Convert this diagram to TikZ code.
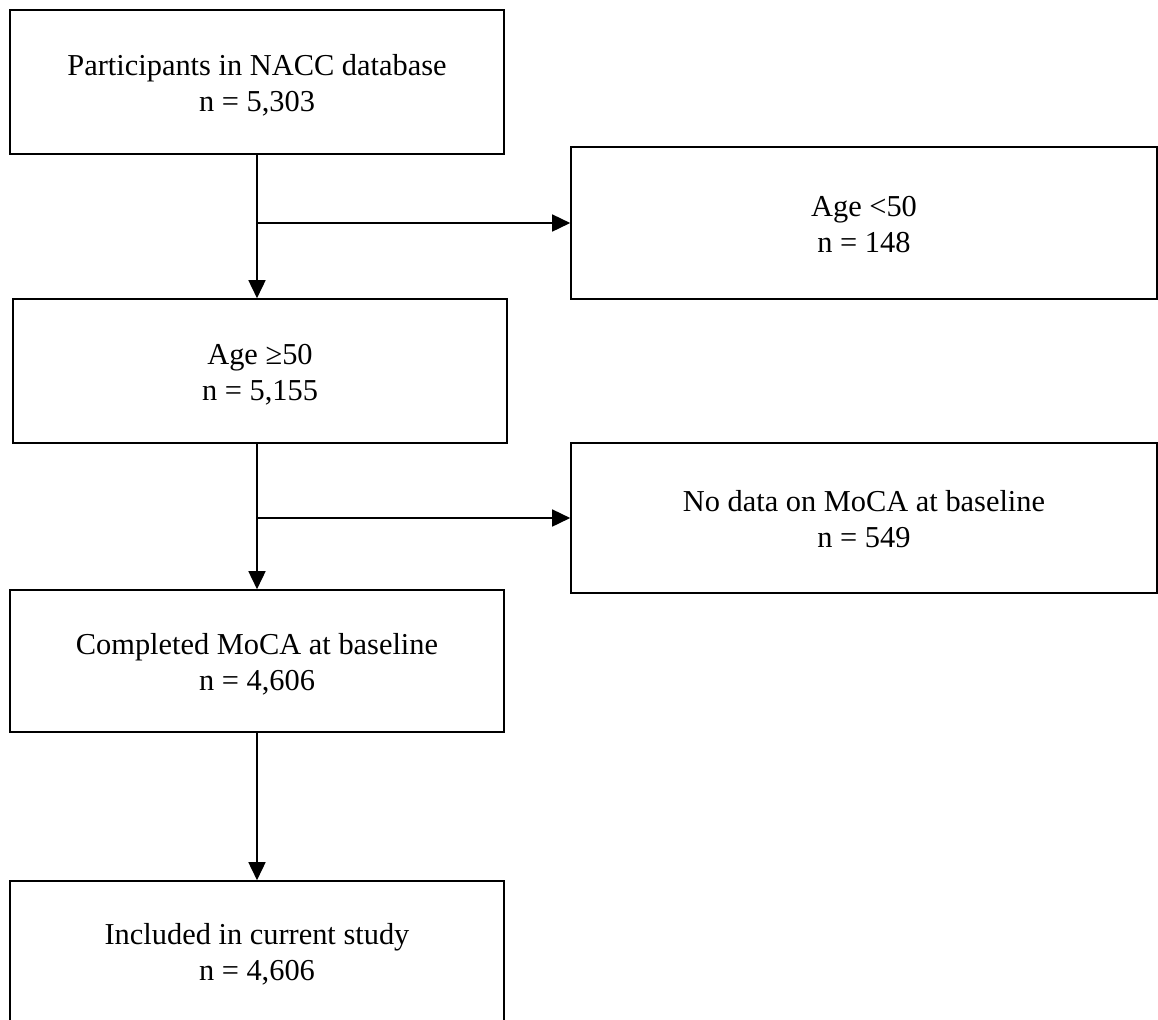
\documentclass[tikz,border=0pt]{standalone}
\usepackage{fontspec}
\setmainfont{Liberation Serif}
\usetikzlibrary{arrows.meta}

\begin{document}
\begin{tikzpicture}[
    x=0.5pt, y=-0.5pt,
    box/.style={
        rectangle, draw=black, line width=0.8pt, fill=white,
        inner sep=0pt, align=center,
        font=\fontsize{15.2}{18}\selectfont,
        text height=32pt, text depth=3pt
    },
    mainBox/.style={box, minimum width=247pt, minimum height=72pt},
    sideBox/.style={box, minimum width=293pt, minimum height=76pt},
    flow/.style={line width=0.8pt, -{Triangle[length=9pt,width=8.5pt]}}
]
    \useasboundingbox (0,0) rectangle (1158,1019);

    % --- 1. Main column ---
    \node[mainBox] (nacc) at (257, 82) {Participants in NACC database\\n = 5,303};
    \node[mainBox, minimum height=72pt] (old) at (260, 371) {Age ≥50\\n = 5,155};
    \node[mainBox, minimum height=71pt] (moca) at (257, 661) {Completed MoCA at baseline\\n = 4,606};
    \node[mainBox, minimum height=70pt] (study) at (257, 951) {Included in current study\\n = 4,606};

    % --- 2. Exclusions ---
    \node[sideBox] (young) at (864, 223) {Age <50\\n = 148};
    \node[sideBox, minimum height=75pt] (nodata) at (864, 518) {No data on MoCA at baseline\\n = 549};

    % --- 3. Arrows ---
    \draw[flow] (nacc.south) -- (nacc.south |- old.north);
    \draw[flow] (nacc.south |- young.west) -- (young.west);
    \draw[flow] (nacc.south |- old.south) -- (nacc.south |- moca.north);
    \draw[flow] (nacc.south |- nodata.west) -- (nodata.west);
    \draw[flow] (moca.south) -- (study.north);
\end{tikzpicture}
\end{document}
